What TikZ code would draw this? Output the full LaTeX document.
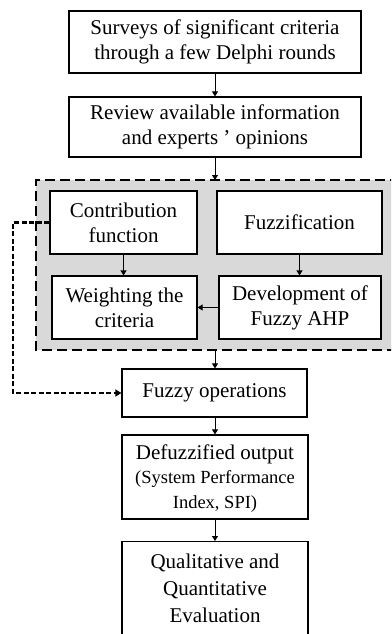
\documentclass[tikz,border=0pt]{standalone}
\usepackage{fontspec}
\setmainfont{Liberation Serif}
\usetikzlibrary{arrows.meta}
\begin{document}
\begin{tikzpicture}[x=1pt,y=-1pt,
  box/.style={draw=black,line width=1.2pt,fill=white,align=center,inner sep=0pt,
    font=\fontsize{21}{25}\selectfont},
  arr/.style={line width=0.8pt,-{Triangle[length=5pt,width=6pt]}},
  dasharr/.style={line width=2.2pt,dash pattern=on 5pt off 2.5pt,-{Triangle[length=6pt,width=7pt]}}]
\useasboundingbox (0,0) rectangle (391,634);
\begin{scope}
\clip (0,0) rectangle (391,634);
\fill[gray!30] (36,180) rectangle (400,350);
\draw[line width=2.6pt,dash pattern=on 10pt off 5pt] (400,180) -- (36,180) -- (36,350) -- (400,350);
\node[box,minimum width=292pt,minimum height=62pt] (b1) at (215,42) {Surveys of significant criteria\\through a few Delphi rounds};
\node[box,minimum width=292pt,minimum height=60pt] (b2) at (215,127) {Review available information\\and experts ’ opinions};
\coordinate (gtop) at (215,180);
\coordinate (gbot) at (215,350);
\node[box,minimum width=147pt,minimum height=63pt] (cf) at (123.5,222.5) {Contribution\\function};
\node[box,minimum width=165pt,minimum height=63pt] (fz) at (299.5,222.5) {Fuzzification};
\node[box,minimum width=145pt,minimum height=63pt] (wc) at (124.5,307.5) {Weighting the\\criteria};
\node[box,minimum width=162pt,minimum height=63pt] (da) at (300,307.5) {Development of\\Fuzzy AHP};
\node[box,minimum width=185pt,minimum height=48pt] (fo) at (214.5,393) {Fuzzy operations};
\node[box,minimum width=186pt,minimum height=84pt] (df) at (215,477) {};
\node[align=center,inner sep=0pt,font=\fontsize{21}{25}\selectfont] (dt) at (215,479) {Defuzzified output\\[-1pt]{\fontsize{18.5}{24}\selectfont (System Performance}\\{\fontsize{18.5}{24}\selectfont Index, SPI)}};
\node[box,minimum width=186pt,minimum height=104pt,anchor=north] (qe) at (215,541) {};
\node[align=center,font=\fontsize{21}{27}\selectfont,anchor=north,inner sep=0pt] (qt) at (215,554) {Qualitative and\\Quantitative\\Evaluation};
\coordinate (c1) at (13,222.5);
\coordinate (c2) at (13,393);
\end{scope}
\draw[arr] (b1.south) -- (b2.north);
\draw[arr] (b2.south) -- (gtop);
\draw[arr] (cf.south) -- (wc.north -| cf.south);
\draw[arr] (fz.south) -- (da.north -| fz.south);
\draw[arr] (da.west) -- (wc.east |- da.west);
\draw[arr] (gbot) -- (fo.north -| gbot);
\draw[arr] (fo.south -| b1.south) -- (df.north);
\draw[arr] (df.south) -- (qe.north);
\draw[dasharr] (cf.west) -- (c1) -- (c2) -- (fo.west);
\end{tikzpicture}
\end{document}
